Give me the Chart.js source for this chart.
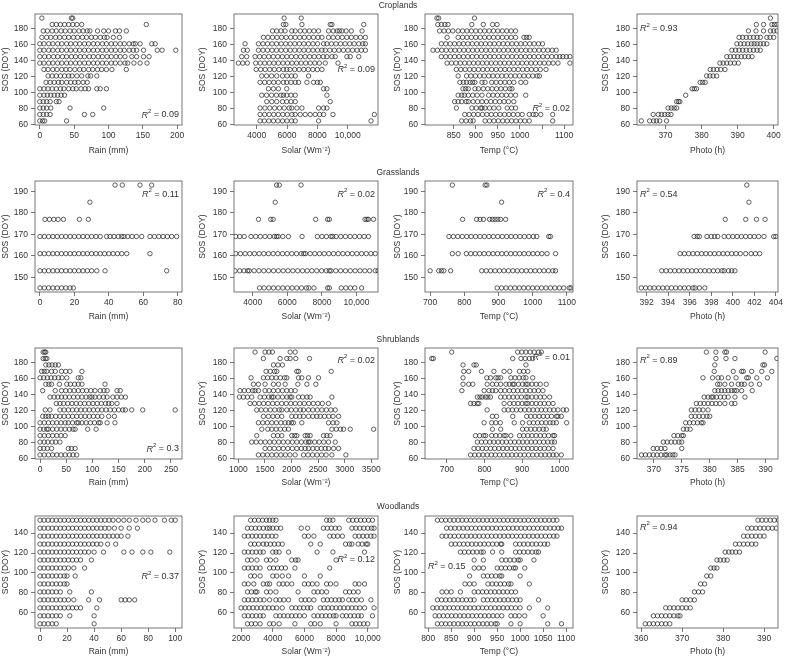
<!DOCTYPE html>
<html>
<head>
<meta charset="utf-8">
<script src="https://cdn.jsdelivr.net/npm/chart.js@4.4.0/dist/chart.umd.min.js"></script>
<style>
  body { margin: 0; background: #fff; width: 787px; height: 659px; position: relative; overflow: hidden;
         font-family: "Liberation Sans", Arial, sans-serif; }
  canvas { position: absolute; }
  .rowtitle { position: absolute; font-size: 8.5px; color: #333; transform: translate(-50%, -50%); z-index: 2; }
</style>
</head>
<body>
<div class="rowtitle" style="left:398px;top:5px">Croplands</div>
<div class="rowtitle" style="left:398px;top:172px">Grasslands</div>
<div class="rowtitle" style="left:398px;top:339px">Shrublands</div>
<div class="rowtitle" style="left:398px;top:506px">Woodlands</div>
<script>
// ---- SOS levels (DOY) per land cover ----
const cropLevels = [65, 73, 81, 89, 97, 105, 113, 121, 129, 137, 145, 153, 161, 169, 177, 185, 193];
const grassLevels = [145, 153, 161, 169, 177, 185, 193];
const shrubLevels = [65, 73, 81, 89, 97, 105, 113, 121, 129, 137, 145, 153, 161, 169, 177, 185, 193];
const woodLevels = [49, 57, 65, 73, 81, 89, 97, 105, 113, 121, 129, 137, 145, 153];

// ---- x values, one list per SOS level (same order as levels) ----
const cropRain = [
  [0, 4, 7, 39],
  [0, 5, 10, 15, 65, 77],
  [0, 5, 10, 16, 44, 93],
  [0, 5, 10, 15, 24, 28],
  [0, 6, 11, 16, 21, 26, 31, 36],
  [0, 6, 12, 18, 24, 30, 35, 42, 48, 53, 60, 66, 71, 83, 88, 97],
  [9, 15, 21, 27, 32, 39, 45, 51, 56, 63, 69],
  [12, 18, 24, 30, 36, 42, 47, 54, 61, 70, 74, 83],
  [6, 12, 19, 25, 32, 38, 44, 51, 58, 64, 71, 77, 84, 90, 97, 105, 126],
  [0, 6, 13, 19, 26, 32, 39, 45, 52, 58, 65, 71, 78, 84, 91, 97, 104, 110, 117, 124, 128, 137, 146, 156],
  [0, 7, 13, 20, 26, 33, 39, 46, 52, 59, 65, 72, 78, 85, 91, 98, 104, 111, 117, 124, 134, 141, 151, 159],
  [0, 6, 13, 19, 26, 32, 39, 45, 52, 58, 65, 71, 78, 84, 91, 97, 104, 110, 117, 123, 130, 136, 141, 151, 171, 178, 198],
  [0, 6, 13, 19, 26, 32, 39, 45, 52, 58, 65, 71, 78, 84, 91, 97, 104, 110, 117, 123, 130, 136, 139, 146, 163, 168],
  [3, 10, 16, 23, 29, 36, 42, 49, 55, 62, 68, 75, 81, 88, 94, 98, 107, 116],
  [5, 11, 18, 24, 31, 37, 44, 50, 57, 63, 69, 73, 84, 93, 100, 110, 116, 126],
  [18, 24, 30, 36, 42, 48, 54, 61, 155],
  [3, 46, 48],
];
const cropSolar = [
  [4220, 4500, 4800, 5100, 5400, 5700, 6000, 6300, 6540, 8080, 11540],
  [4220, 4520, 4820, 5120, 5420, 5720, 6020, 6320, 6540, 6870, 7200, 7530, 7860, 8150, 8410, 9030, 11760],
  [4220, 4540, 4860, 5180, 5500, 5820, 6140, 6310, 6650, 6980, 8080, 8410, 8630],
  [4660, 4990, 5320, 5700, 5980, 6260, 6540, 8850],
  [4330, 4650, 4980, 5300, 5600, 5760, 5980, 6260, 6540, 8630],
  [4770, 5100, 5430, 5980, 8410, 8630],
  [4220, 4520, 4820, 5120, 5420, 5760, 5980, 6260, 6540, 6760, 7310, 7750, 8000, 8190],
  [4330, 4650, 4980, 5320, 5700, 6000, 6300, 6540, 7420],
  [3960, 4260, 4560, 4860, 5160, 5460, 5760, 5980, 6200, 6500, 6800, 7100, 7400, 7700, 8000, 8300],
  [2790, 3080, 3380, 3930, 4230, 4530, 4830, 5130, 5430, 5730, 6030, 6330, 6630, 6930, 7230, 7530, 7830, 8130, 8520, 9360],
  [3010, 3340, 3890, 4190, 4490, 4790, 5090, 5390, 5690, 5990, 6290, 6590, 6890, 7190, 7490, 7790, 8090, 8390, 8630, 8960, 9180, 9950, 10170, 10730],
  [3120, 3380, 4110, 4410, 4710, 5010, 5310, 5610, 5910, 6210, 6510, 6810, 7110, 7410, 7710, 8010, 8300, 8520, 8820, 9120, 9420, 9720, 10020, 10320, 10620, 10900, 11170],
  [3230, 4110, 4410, 4710, 5010, 5310, 5610, 5910, 6210, 6510, 6810, 7110, 7410, 7710, 8010, 8410, 8630, 8930, 9230, 9530, 9830, 10130, 10430, 10730, 11000, 11170],
  [4440, 4740, 5040, 5340, 5640, 5940, 6240, 6540, 6840, 7140, 7440, 7740, 8040, 8300, 8740, 9040, 9340, 9640, 9940, 10240, 10540, 10840, 11170],
  [5040, 5320, 5600, 5870, 6310, 6540, 6870, 7170, 7470, 7770, 8080, 8740, 9050, 9300, 9450, 9620, 9900, 10240, 10950],
  [5760, 5920, 6980, 8850, 8960, 11060],
  [5808, 6933],
];
const cropTemp = [
  [868, 878, 888, 894, 921, 931, 941, 951, 961, 971, 981, 991, 1001, 1011, 1021, 1074],
  [875, 885, 895, 905, 915, 925, 935, 945, 955, 965, 975, 985, 995, 1005, 1021, 1030, 1036, 1047, 1074],
  [856, 891, 901, 911, 914, 921, 931, 941, 952, 971, 981, 990],
  [852, 860, 868, 878, 883, 894, 904, 914, 924, 934, 944, 954, 964, 974, 986],
  [860, 868, 874, 883, 893, 903, 914, 929, 939, 949, 959, 969, 979, 990, 1013],
  [871, 877, 883, 898, 906, 917, 927, 937, 947, 957, 967, 977, 982],
  [864, 872, 879, 887, 893, 898, 914, 921, 936, 946, 956, 966, 976, 986, 1002, 1013],
  [860, 879, 889, 899, 909, 919, 929, 939, 949, 959, 969, 979, 989, 999, 1009, 1019, 1029, 1039, 1044],
  [856, 866, 876, 886, 896, 906, 916, 926, 936, 946, 956, 966, 976, 986, 996, 1006, 1016, 1026, 1036, 1046, 1059],
  [835, 845, 855, 865, 875, 885, 895, 905, 915, 925, 935, 945, 955, 965, 975, 985, 995, 1005, 1015, 1025, 1035, 1045, 1055, 1065, 1075, 1086, 1113],
  [822, 832, 842, 852, 862, 872, 882, 892, 902, 912, 922, 932, 942, 952, 962, 972, 982, 992, 1002, 1012, 1022, 1032, 1042, 1052, 1062, 1072, 1082, 1090, 1097, 1105, 1113],
  [803, 813, 823, 833, 843, 853, 863, 873, 883, 893, 903, 913, 923, 933, 943, 953, 963, 973, 983, 993, 1003, 1013, 1023, 1033, 1043, 1053, 1063, 1073, 1082],
  [822, 832, 842, 852, 862, 872, 882, 892, 902, 912, 922, 932, 942, 952, 962, 972, 982, 992, 1002, 1012, 1022, 1032, 1042, 1051],
  [835, 860, 870, 880, 890, 900, 910, 920, 930, 940, 950, 960, 970, 980, 990, 1009, 1015, 1021],
  [818, 828, 838, 848, 860, 870, 880, 890, 900, 910, 920, 930, 940, 950, 960, 970, 980, 990],
  [814, 822, 830, 837, 891, 917, 938, 948],
  [812, 816, 897],
];
const cropPhoto = [
  [363.3, 365.6, 366.7, 367.5, 368.4, 370.3],
  [366.6, 368, 368.9, 369.8, 370.7, 371.5],
  [370.7, 371.6, 372.4, 373.1],
  [373.1, 373.6, 374],
  [375.6],
  [377.4, 378, 378.6],
  [379.6, 380.3, 381],
  [381.4, 382.3, 383.2, 384.2],
  [382.4, 383.3, 384.3, 385.3, 386.5],
  [385.1, 386, 387, 388, 389.1, 390.2],
  [387, 388, 389, 390, 391, 392, 393, 394],
  [388.4, 389.4, 390.4, 391.4, 392.4, 393.4, 394.4, 395.4, 396.3],
  [389.8, 390.8, 391.8, 392.8, 393.8, 394.6, 395.4, 396.3, 397.2, 398.1],
  [390.4, 391.4, 392.4, 393.4, 394.4, 395.4, 396.3, 398.1, 399, 400],
  [393, 395.1, 397.2, 399.1, 400, 400.9],
  [395.2, 397.2, 399.5, 400.2, 400.9],
  [399.1],
];

const grassRain = [
  [0, 2.5, 5, 7.5, 10, 12.5, 15, 17.5, 19.4],
  [0, 2.5, 5, 7.5, 10, 12.5, 15, 17.5, 20, 22.5, 25, 27.5, 30, 33, 37.8, 73.6],
  [0, 2.5, 5, 7.5, 10, 12.5, 15, 17.5, 20, 22.5, 25, 27.5, 30, 32.5, 35, 37.5, 40, 42.5, 45, 47.5, 50.4, 63.9],
  [0, 2.5, 5, 7.5, 10, 12.5, 15, 17.5, 20, 22.5, 25, 27.5, 30, 32.5, 35, 38.7, 40.7, 43, 45.5, 47.5, 48.8, 51, 53.5, 56, 59.1, 63.9, 66.5, 69, 71.5, 74, 76.5, 79.4],
  [2.9, 5.5, 8, 10.5, 13.6, 22.9, 28.1],
  [29],
  [43.6, 47.8, 58.1, 64.9],
];
const grassSolar = [
  [4393, 4660, 4930, 5200, 5470, 5740, 6010, 6280, 6550, 6820, 7100, 7246, 7540, 8330, 8430, 9114, 9380, 9650, 9900, 10294],
  [2977, 3250, 3500, 3705, 3803, 4080, 4360, 4640, 4920, 5200, 5480, 5760, 6040, 6320, 6600, 6880, 7147, 7420, 7700, 7980, 8250, 8426, 8524, 8800, 9080, 9360, 9640, 9920, 10200, 10480, 10760, 11081, 11238],
  [3016, 3290, 3560, 3830, 4100, 4370, 4640, 4910, 5180, 5450, 5720, 5990, 6260, 6530, 6800, 6950, 7049, 7320, 7590, 7860, 8130, 8400, 8670, 8940, 9210, 9480, 9750, 10020, 10290, 10560, 10830, 11081],
  [3016, 3250, 3508, 3902, 4170, 4440, 4710, 4980, 5250, 5377, 5475, 5740, 6065, 6852, 7737, 8000, 8260, 8520, 8623, 8820, 9090, 9360, 9630, 9900, 10170, 10440, 10688],
  [4334, 5043, 5180, 7639, 8327, 8426, 10491, 10600, 10688, 10983],
  [5298],
  [5377, 5534, 6793],
];
const grassTemp = [
  [896, 909, 922, 935, 948, 961, 974, 987, 1000, 1013, 1026, 1039, 1052, 1065, 1078, 1091, 1107, 1112],
  [700, 725, 733, 740, 760, 851, 864, 877, 890, 903, 916, 929, 942, 955, 968, 981, 994, 1007, 1020, 1033, 1046, 1059, 1067],
  [765, 782, 806, 819, 832, 845, 858, 871, 884, 897, 910, 923, 936, 949, 962, 975, 988, 1001, 1014, 1027, 1042, 1067],
  [755, 768, 781, 794, 807, 820, 833, 846, 859, 872, 885, 898, 911, 924, 937, 950, 963, 976, 989, 1002, 1012, 1047, 1052],
  [795, 836, 846, 856, 874, 882, 890, 898, 906, 921],
  [909],
  [765, 861, 866],
];
const grassPhoto = [
  [391.5, 391.9, 392.3, 392.7, 393.1, 393.5, 393.9, 394.3, 394.7, 395.1, 395.5, 395.9, 396.3, 396.5, 396.9, 397.4],
  [393.4, 393.8, 394.2, 394.6, 395, 395.4, 395.8, 396.2, 396.6, 397, 397.4, 397.8, 398.2, 398.6, 399, 399.2, 399.6, 399.9, 400.2],
  [395.1, 395.5, 395.9, 396.3, 396.7, 397.1, 397.5, 397.9, 398.3, 398.7, 399.1, 399.5, 399.9, 400.3, 400.7, 401.2, 401.7, 402.1, 402.5],
  [396.4, 396.7, 396.9, 397.6, 398, 398.3, 398.6, 399.2, 399.6, 400, 400.4, 400.8, 401.2, 401.6, 402, 402.4, 402.9, 403.8, 404],
  [399.3, 401.2, 402.2, 403],
  [401.5],
  [401.3],
];

const shrubRain = [
  [0, 8, 16, 24, 32, 40, 48, 56, 63, 70],
  [0, 7, 14, 22, 54, 60, 67],
  [0, 8, 15, 23, 30, 38],
  [0, 8, 16, 24, 32, 40, 48],
  [0, 7, 13, 16, 24, 32, 40, 48, 56, 63, 67, 91, 107],
  [0, 8, 16, 24, 32, 40, 48, 54, 62, 70, 73, 80, 88, 96, 104, 112, 115, 128, 143],
  [5, 11, 16, 22, 30, 38, 46, 54, 62, 70, 78, 86, 94, 102, 110, 118, 131, 142],
  [10, 19, 38, 46, 54, 62, 70, 78, 86, 94, 102, 110, 118, 126, 134, 142, 150, 158, 163, 175, 196, 258],
  [31, 38, 45, 53, 61, 69, 77, 85, 93, 101, 109, 117, 125, 131, 137, 147],
  [19, 27, 34, 41, 48, 56, 64, 72, 80, 88, 95, 99, 105, 113, 121, 128, 139, 147, 155, 163],
  [5, 29, 41, 49, 57, 65, 73, 81, 89, 97, 105, 115, 122, 128, 147, 153],
  [11, 17, 22, 37, 51, 58, 66, 73, 80, 124],
  [0, 7, 14, 21, 28, 35, 42, 51, 73, 78],
  [3, 8, 13, 22, 29, 41, 49, 57, 80],
  [11, 17, 23, 29, 35],
  [6, 10, 13],
  [6, 9, 11],
];
const shrubSolar = [
  [1377, 1460, 1545, 1630, 1715, 1800, 1885, 1970, 2068, 2225, 2310, 2395, 2480, 2565, 2650, 2759, 3022],
  [1502, 1590, 1675, 1760, 1845, 1930, 2015, 2100, 2185, 2256, 2319, 2400, 2480, 2560, 2633, 2696, 2790, 2884],
  [1251, 1335, 1420, 1505, 1590, 1675, 1760, 1845, 1930, 2015, 2100, 2185, 2270, 2319, 2350, 2435, 2520, 2605, 2696, 2822],
  [1345, 1660, 1740, 1817, 2005, 2060, 2099, 2256, 2300, 2350, 2602, 2665, 2727],
  [1440, 1553, 1630, 1710, 1790, 1870, 1942, 2759, 2840, 2920, 2979, 3104, 3544],
  [1377, 1460, 1545, 1630, 1715, 1800, 1880, 1942, 2000, 2036, 2193, 2696, 2780, 2853],
  [1471, 1565, 1650, 1735, 1817, 2005, 2080, 2155, 2225, 2319, 2400, 2476, 2539, 2620, 2700, 2780, 2884],
  [1345, 1430, 1515, 1600, 1685, 1770, 1817, 1911, 1995, 2080, 2165, 2225, 2319, 2400, 2485, 2570, 2655, 2740, 2822],
  [1220, 1305, 1390, 1475, 1560, 1645, 1730, 1815, 1900, 1985, 2070, 2155, 2240, 2325, 2410, 2495, 2580, 2696],
  [1019, 1094, 1170, 1251, 1408, 1490, 1570, 1628, 1660, 1745, 1830, 1915, 1974, 2005, 2131, 2210, 2290, 2350, 2759],
  [1031, 1110, 1190, 1270, 1314, 1377, 1502, 1578, 1660, 1745, 1829, 1911, 1990, 2068],
  [1283, 1377, 1502, 1660, 1754, 1880, 2118, 2288, 2457],
  [1239, 1471, 1550, 1630, 1710, 1790, 1870, 1911, 2131, 2193, 2319, 2508],
  [1521, 1600, 1680, 1722, 2099, 2131, 2746],
  [1660, 1745, 1829],
  [1471, 1785, 1911, 1974, 2080, 2338],
  [1314, 1502, 1575, 1641, 1974, 2068],
];
const shrubTemp = [
  [763, 774, 785, 796, 807, 818, 829, 840, 851, 862, 873, 884, 895, 906, 917, 928, 939, 950, 961, 972, 982, 991, 1004],
  [772, 783, 794, 805, 816, 827, 838, 849, 860, 871, 882, 893, 904, 915, 926, 937, 948, 959, 970, 982],
  [781, 792, 803, 814, 825, 836, 847, 858, 869, 880, 891, 902, 913, 924, 935, 946, 957, 968, 979, 986],
  [776, 787, 798, 803, 819, 830, 841, 852, 857, 870, 893, 904, 915, 926, 937, 948, 959, 970, 982, 986],
  [821, 843, 901, 912, 923, 934, 945, 956, 964],
  [799, 819, 830, 842, 879, 901, 919, 930, 941, 952, 963, 974, 982, 991, 1018],
  [821, 832, 875, 912, 923, 934, 945, 956, 967, 978, 991, 995, 1004],
  [807, 852, 863, 874, 885, 896, 907, 918, 929, 940, 951, 962, 973, 984, 995, 1009, 1018],
  [763, 772, 781, 785, 852, 867, 878, 889, 900, 910, 915, 926, 937, 948, 959, 970, 982],
  [781, 788, 794, 803, 809, 816, 843, 854, 865, 876, 887, 898, 910, 915, 926, 937, 948, 959, 973],
  [740, 799, 812, 821, 830, 843, 854, 866, 877, 888, 899, 910, 921, 932, 943, 955],
  [743, 758, 769, 807, 821, 832, 843, 857, 866, 875, 879, 890, 901, 910, 915, 926, 937, 948, 964],
  [743, 806, 816, 830, 836, 843, 870, 881, 892, 903, 910, 928],
  [745, 758, 792, 825, 852, 867, 893, 904, 915],
  [743, 772, 778, 910],
  [660, 664, 875, 897, 908, 919, 928],
  [713, 888, 899, 910, 921, 932, 943, 951],
];
const shrubPhoto = [
  [367.8, 368.5, 369.2, 369.9, 370.6, 371.3, 372, 372.3, 372.9, 373.4, 373.8],
  [369.9, 370.6, 371.3, 372, 375],
  [371.7, 372.4, 373.1, 373.8, 374.5, 375],
  [373.6, 374.3, 375, 375.3],
  [375.3, 375.9, 376.5],
  [375.7, 376.4, 377.1, 377.8, 378.5, 378.8],
  [376.7, 377.4, 378.1, 378.8, 379.5, 380],
  [376.7, 377.4, 378.1, 378.8, 379.7],
  [377.6, 378.3, 379, 379.7, 380.4, 381.1, 381.8, 382.7, 383.9, 384.5],
  [379, 379.7, 380.3, 380.6, 381.2, 381.9, 382.6, 383.3, 384.5, 386.3],
  [380.9, 381.5, 382.1, 382.7, 383.3, 383.9, 384.4, 384.8, 385.7, 387.6],
  [381.4, 381.8, 382.7, 383.9, 385.1, 385.7, 386.2, 387.4, 388.9],
  [378.8, 380.5, 381.5, 382.1, 383.3, 384.7, 386.6, 386.9, 388.4, 390.3],
  [380.8, 384.2, 385.7, 386, 387.5, 389.3, 391.1],
  [380.9, 389.5, 389.8],
  [381.1, 382.9, 384.5, 392],
  [379.4, 381.1, 382.7, 383, 389.9],
];

const woodRain = [
  [0, 3, 6, 9, 12, 40],
  [0, 3, 6, 9, 12, 15, 22, 40],
  [0, 3, 6, 9, 12, 15, 18, 21, 24, 27, 30, 42],
  [0, 3, 6, 9, 12, 15, 18, 21, 25, 36, 44, 60, 63, 66, 70],
  [0, 3, 6, 9, 12, 15, 22, 38],
  [0, 3, 6, 9, 12, 15, 18, 20],
  [0, 3, 6, 9, 12, 15, 18, 20, 26],
  [0, 3, 6, 9, 12, 15, 18, 21, 25, 33],
  [0, 3, 6, 9, 12, 15, 18, 21, 24, 27, 30, 38],
  [0, 3, 6, 9, 12, 15, 18, 21, 24, 27, 30, 33, 36, 40, 47, 62, 68, 76, 82, 96],
  [0, 3, 6, 9, 12, 15, 18, 21, 24, 27, 30, 33, 36, 39, 42, 45, 50, 56],
  [0, 3, 6, 9, 12, 15, 18, 21, 24, 27, 30, 33, 36, 39, 42, 45, 48, 51, 54, 57, 60, 65],
  [0, 3, 6, 9, 12, 15, 18, 21, 24, 27, 30, 33, 36, 39, 42, 45, 48, 51, 55, 60, 66, 72],
  [0, 3, 6, 9, 12, 15, 18, 21, 24, 27, 30, 33, 36, 39, 42, 45, 48, 51, 54, 58, 62, 66, 71, 76, 80, 85, 92, 97, 100],
];
const woodSolar = [
  [2400, 2650, 2900, 3200, 3800, 4050, 4400, 5400, 6400, 6650, 7000, 8000, 9000, 9250, 9500, 9750, 10000],
  [2200, 2450, 2700, 2950, 3200, 3400, 4200, 4450, 4700, 4950, 5200, 5450, 5700, 6000, 6600, 6850, 7100, 7350, 7600, 7850, 8000, 8400, 8650, 8900, 9150, 9400, 9600, 10300],
  [2000, 2250, 2500, 2750, 3000, 3250, 3500, 3750, 4000, 4250, 4600, 5200, 5450, 5700, 5950, 6200, 6400, 7000, 7250, 7500, 7750, 8000, 8250, 8500, 8750, 9000, 9250, 9500, 9800, 10400],
  [2200, 2450, 2700, 2950, 3200, 3450, 3800, 4200, 4450, 4700, 5000, 5800, 6050, 6300, 6600, 7200, 7450, 7700, 7950, 8200, 8400, 8800, 9050, 9300, 9600, 10200],
  [2400, 2650, 2900, 3000, 3600, 3850, 4200, 5600, 6600, 6850, 7100, 7400, 8600, 8850, 9100, 9400],
  [2200, 2450, 2800, 3400, 3650, 3800, 4400, 4650, 4900, 5200, 6000, 6250, 6500, 6800, 7400, 7650, 8000, 9200, 9450, 9800],
  [2600, 2850, 3200, 4000, 4250, 4600, 5000, 6000, 7000],
  [2200, 2450, 2700, 2950, 3200, 3800, 4050, 4300, 4550, 4800, 5400, 7600],
  [2400, 2650, 3000, 3600, 3850, 4200, 5200, 5450, 5600, 8000],
  [2200, 2450, 2700, 2950, 3200, 3400, 4000, 4200, 4400, 5000, 6800, 7800, 9800],
  [2600, 2850, 3100, 3400, 3600, 3850, 4100, 4350, 4600, 6400, 7000, 8600, 8850, 9000, 9400, 9650, 9900, 10000],
  [2200, 2450, 2700, 2950, 3200, 3450, 3700, 3950, 4200, 6000, 6250, 6600, 7600, 7850, 8100, 8400, 9200, 9450, 9700, 9950, 10200, 10400],
  [2400, 2650, 2900, 3150, 3400, 3650, 3800, 4000, 4250, 4500, 5800, 6200, 7200, 7450, 7700, 7950, 8200, 9000, 9250, 9500, 9750, 10000, 10250, 10400],
  [2600, 2850, 3100, 3350, 3600, 3800, 4000, 4200, 7400, 7600, 7800, 8800, 9050, 9300, 9550, 9800, 10050, 10300],
];
const woodTemp = [
  [820, 829, 838, 847, 856, 865, 874, 883, 892, 901, 910, 919, 928, 937, 946, 950, 980, 1000, 1060, 1090],
  [815, 824, 833, 842, 851, 860, 869, 878, 887, 896, 905, 914, 923, 932, 941, 950, 960, 980, 989, 998, 1010, 1050],
  [810, 819, 828, 837, 846, 855, 864, 873, 882, 891, 900, 909, 918, 927, 936, 945, 954, 963, 972, 981, 990, 1000, 1020, 1060],
  [820, 829, 838, 847, 856, 865, 874, 883, 892, 900, 920, 929, 938, 947, 956, 965, 974, 983, 992, 1000, 1040],
  [830, 840, 850, 870, 900, 909, 918, 927, 936, 945, 954, 963, 972, 981, 990],
  [880, 890, 900, 930, 939, 948, 957, 966, 975, 980, 1020],
  [890, 920, 929, 938, 947, 956, 960, 1000],
  [900, 910, 920, 950, 959, 968, 977, 986, 990, 1010],
  [900, 920, 960, 969, 978, 987, 996, 1000, 1030],
  [870, 879, 888, 897, 906, 915, 920, 940, 960, 990, 999, 1008, 1017, 1026, 1035, 1040],
  [850, 859, 868, 877, 886, 895, 904, 913, 922, 931, 940, 949, 958, 960, 990, 999, 1008, 1017, 1026, 1035, 1044, 1053, 1060],
  [830, 839, 848, 857, 866, 875, 884, 893, 902, 911, 920, 929, 938, 947, 956, 965, 974, 983, 992, 1001, 1010, 1019, 1028, 1037, 1046, 1055, 1064, 1073, 1080],
  [840, 849, 858, 867, 876, 885, 894, 903, 912, 921, 930, 939, 948, 957, 966, 975, 984, 993, 1002, 1011, 1020, 1029, 1038, 1047, 1056, 1065, 1074, 1083, 1090],
  [820, 829, 838, 847, 856, 865, 874, 883, 892, 901, 910, 919, 928, 937, 946, 955, 964, 973, 982, 991, 1000, 1009, 1018, 1027, 1036, 1045, 1054, 1063, 1072, 1080],
];
const woodPhoto = [
  [361, 362, 363, 364, 365, 366, 367],
  [363, 364, 365, 366, 367, 368, 369, 369.5],
  [366, 367, 368, 369, 370, 371, 372],
  [370, 371, 372, 373],
  [373, 374, 375],
  [374.5, 375.5],
  [376, 377],
  [377, 377.8, 378.5],
  [378.5, 379.3, 380.2, 381],
  [380.5, 381.4, 382.2, 383.1, 384],
  [383, 384, 385, 386, 387, 388],
  [385, 386, 387, 388, 389, 390],
  [386, 387, 388, 389, 390, 391, 392, 393],
  [388.5, 389.5, 390.5, 391.5, 392.5, 393.5],
];

// ---- tick labels ----
const yTicksLow = [60, 80, 100, 120, 140, 160, 180];
const yTicksGrass = [150, 160, 170, 180, 190];
const yTicksWood = [60, 80, 100, 120, 140];
const cropRainTicks = [0, 50, 100, 150, 200];
const cropSolarTicks = [4000, 6000, 8000, 10000];
const cropTempTicks = [850, 900, 950, 1000, 1050, 1100];
const cropPhotoTicks = [370, 380, 390, 400];
const grassRainTicks = [0, 20, 40, 60, 80];
const grassSolarTicks = [4000, 6000, 8000, 10000];
const grassTempTicks = [700, 800, 900, 1000, 1100];
const grassPhotoTicks = [392, 394, 396, 398, 400, 402, 404];
const shrubRainTicks = [0, 50, 100, 150, 200, 250];
const shrubSolarTicks = [1000, 1500, 2000, 2500, 3000, 3500];
const shrubTempTicks = [700, 800, 900, 1000];
const shrubPhotoTicks = [370, 375, 380, 385, 390];
const woodRainTicks = [0, 20, 40, 60, 80, 100];
const woodSolarTicks = [2000, 4000, 6000, 8000, 10000];
const woodTempTicks = [800, 850, 900, 950, 1000, 1050, 1100];
const woodPhotoTicks = [360, 370, 380, 390];

const xTitles = ["Rain (mm)", "Solar (Wm\u207B\u00B2)", "Temp (\u00B0C)", "Photo (h)"];
const r2Values = [
  ["0.09", "0.09", "0.02", "0.93"],
  ["0.11", "0.02", "0.4", "0.54"],
  ["0.3", "0.02", "0.01", "0.89"],
  ["0.37", "0.12", "0.15", "0.94"],
];

// ---- page geometry (plot boxes) ----
const plotL = [35, 234, 425, 637], plotR = [182, 378, 573, 778], yTitleX = [6, 203, 398, 606];
const plotT = [14, 181, 348, 516], plotB = [125, 292, 459, 628], xTitleY = [151, 317, 483, 652];

const FONT = "'Liberation Sans', Arial, Helvetica, sans-serif";
const TXT = "#333";

const panels = [
  { r: 0, c: 0, levels: cropLevels, rows: cropRain, x: [-7, 207], xt: cropRainTicks, y: [59.9, 198.1], yt: yTicksLow, r2: ["right", 0.91] },
  { r: 0, c: 1, levels: cropLevels, rows: cropSolar, x: [2500, 12000], xt: cropSolarTicks, y: [59.9, 198.1], yt: yTicksLow, r2: ["right", 0.50] },
  { r: 0, c: 2, levels: cropLevels, rows: cropTemp, x: [785, 1120], xt: cropTempTicks, hide: [1050], y: [59.9, 198.1], yt: yTicksLow, r2: ["right", 0.85] },
  { r: 0, c: 3, levels: cropLevels, rows: cropPhoto, x: [362.1, 401.2], xt: cropPhotoTicks, y: [59.9, 198.1], yt: yTicksLow, r2: ["left", 0.135] },
  { r: 1, c: 0, levels: grassLevels, rows: grassRain, x: [-2.9, 82.5], xt: grassRainTicks, y: [143.1, 194.9], yt: yTicksGrass, r2: ["right", 0.12] },
  { r: 1, c: 1, levels: grassLevels, rows: grassSolar, x: [2918, 11240], xt: grassSolarTicks, y: [143.1, 194.9], yt: yTicksGrass, r2: ["right", 0.12] },
  { r: 1, c: 2, levels: grassLevels, rows: grassTemp, x: [685, 1118], xt: grassTempTicks, y: [143.1, 194.9], yt: yTicksGrass, r2: ["right", 0.12] },
  { r: 1, c: 3, levels: grassLevels, rows: grassPhoto, x: [391.1, 404.2], xt: grassPhotoTicks, y: [143.1, 194.9], yt: yTicksGrass, r2: ["left", 0.12] },
  { r: 2, c: 0, levels: shrubLevels, rows: shrubRain, x: [-9.6, 271], xt: shrubRainTicks, y: [59.9, 198.1], yt: yTicksLow, r2: ["right", 0.91] },
  { r: 2, c: 1, levels: shrubLevels, rows: shrubSolar, x: [918, 3626], xt: shrubSolarTicks, y: [59.9, 198.1], yt: yTicksLow, r2: ["right", 0.11] },
  { r: 2, c: 2, levels: shrubLevels, rows: shrubTemp, x: [642, 1035], xt: shrubTempTicks, y: [59.9, 198.1], yt: yTicksLow, r2: ["right", 0.09] },
  { r: 2, c: 3, levels: shrubLevels, rows: shrubPhoto, x: [367, 392.2], xt: shrubPhotoTicks, y: [59.9, 198.1], yt: yTicksLow, r2: ["left", 0.11] },
  { r: 3, c: 0, levels: woodLevels, rows: woodRain, x: [-3.7, 105], xt: woodRainTicks, y: [44.8, 157.2], yt: yTicksWood, r2: ["right", 0.54] },
  { r: 3, c: 1, levels: woodLevels, rows: woodSolar, x: [1550, 10650], xt: woodSolarTicks, y: [44.8, 157.2], yt: yTicksWood, r2: ["right", 0.39] },
  { r: 3, c: 2, levels: woodLevels, rows: woodTemp, x: [793, 1115], xt: woodTempTicks, y: [44.8, 157.2], yt: yTicksWood, r2: ["left", 0.455] },
  { r: 3, c: 3, levels: woodLevels, rows: woodPhoto, x: [359, 393.4], xt: woodPhotoTicks, y: [44.8, 157.2], yt: yTicksWood, r2: ["left", 0.10] },
];

// box round the plot + R² label
const boxPlugin = {
  id: "box",
  afterDraw(chart, args, opts) {
    const { ctx, chartArea: a } = chart;
    ctx.save();
    ctx.strokeStyle = "#555";
    ctx.lineWidth = 0.8;
    ctx.strokeRect(a.left, a.top, a.right - a.left, a.bottom - a.top);
    const y = a.top + opts.fy * (a.bottom - a.top);
    ctx.fillStyle = TXT;
    ctx.textBaseline = "middle";
    ctx.font = "italic 9px " + FONT;
    const wR = ctx.measureText("R").width;
    ctx.font = "6px " + FONT;
    const w2 = ctx.measureText("2").width;
    ctx.font = "9px " + FONT;
    const rest = " = " + opts.value;
    const wRest = ctx.measureText(rest).width;
    const x0 = opts.side === "right" ? a.right - 3 - (wR + w2 + wRest) : a.left + 3;
    ctx.font = "italic 9px " + FONT;
    ctx.fillText("R", x0, y);
    ctx.font = "6px " + FONT;
    ctx.fillText("2", x0 + wR, y - 3.5);
    ctx.font = "9px " + FONT;
    ctx.fillText(rest, x0 + wR + w2, y);
    ctx.restore();
  },
};

const fmt = (v) => (v >= 10000 ? v.toLocaleString("en-US") : String(v));

for (const p of panels) {
  const left = Math.round(yTitleX[p.c] - 5);
  const top = plotT[p.r] - 8;
  const right = plotR[p.c] + 8;
  const bottom = Math.round(xTitleY[p.r] + 5);
  const cv = document.createElement("canvas");
  cv.width = right - left;
  cv.height = bottom - top;
  cv.style.left = left + "px";
  cv.style.top = top + "px";
  document.body.appendChild(cv);

  const data = [];
  p.rows.forEach((xs, i) => xs.forEach((x) => data.push({ x, y: p.levels[i] })));
  const yW = plotL[p.c] - left;
  const xH = bottom - plotB[p.r];
  const hide = p.hide || [];

  const axisCommon = {
    type: "linear",
    grid: { drawOnChartArea: false, drawTicks: true, tickLength: 4, color: "#555", lineWidth: 0.8 },
    border: { display: false },
  };

  new Chart(cv, {
    type: "scatter",
    data: {
      datasets: [{
        data,
        pointStyle: "circle",
        pointRadius: 2.2,
        pointHoverRadius: 2.2,
        borderWidth: 0.7,
        borderColor: "#1e1e1e",
        backgroundColor: "rgba(0,0,0,0)",
      }],
    },
    options: {
      responsive: false,
      animation: false,
      events: [],
      layout: { padding: { top: 8, right: 8, left: 0, bottom: 0 } },
      plugins: {
        legend: { display: false },
        tooltip: { enabled: false },
        box: { side: p.r2[0], fy: p.r2[1], value: r2Values[p.r][p.c] },
      },
      scales: {
        x: {
          ...axisCommon,
          min: p.x[0], max: p.x[1],
          afterBuildTicks: (s) => { s.ticks = p.xt.map((v) => ({ value: v })); },
          afterFit: (s) => { s.height = xH; s.paddingLeft = 0; s.paddingRight = 0; },
          ticks: {
            autoSkip: false, maxRotation: 0, padding: 2, color: TXT,
            font: { family: FONT, size: 8.5 },
            callback: (v) => (hide.includes(v) ? "" : fmt(v)),
          },
          title: { display: true, text: xTitles[p.c], color: TXT, padding: 0, font: { family: FONT, size: 8.5 } },
        },
        y: {
          ...axisCommon,
          min: p.y[0], max: p.y[1],
          afterBuildTicks: (s) => { s.ticks = p.yt.map((v) => ({ value: v })); },
          afterFit: (s) => { s.width = yW; s.paddingTop = 0; s.paddingBottom = 0; },
          ticks: { autoSkip: false, padding: 3, color: TXT, font: { family: FONT, size: 8.5 } },
          title: { display: true, text: "SOS (DOY)", color: TXT, padding: 0, font: { family: FONT, size: 8.5 } },
        },
      },
    },
    plugins: [boxPlugin],
  });
}
</script>
</body>
</html>
